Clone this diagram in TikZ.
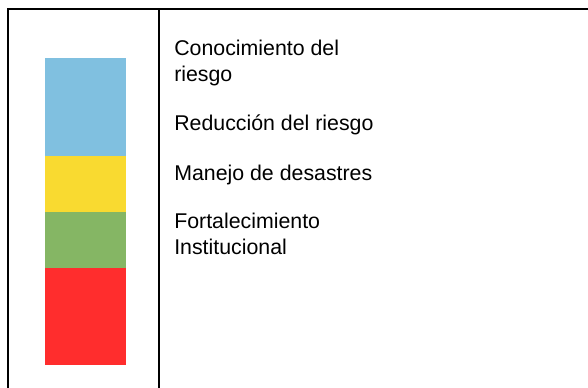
\documentclass[tikz,border=0pt]{standalone}
\usepackage{fontspec}
\setmainfont{Liberation Sans}
\definecolor{cblue}{HTML}{80C0E0}
\definecolor{cyellow}{HTML}{F9DA30}
\definecolor{cgreen}{HTML}{85B664}
\definecolor{cred}{HTML}{FF2D2D}
\tikzset{
  rule/.style={line width=1.7pt, line cap=rect},
  band/.style={inner sep=0pt, outer sep=0pt},
  label/.style={anchor=base west, inner sep=0pt, font=\fontsize{16}{19}\selectfont}
}
\begin{document}
\begin{tikzpicture}[x=0.75pt,y=-0.75pt]
  \useasboundingbox[fill=white] (0,0) rectangle (588,387);
  % table rules
  \coordinate (tl) at (8,9);
  \coordinate (tr) at (590,9);
  \coordinate (bl) at (8,390);
  \coordinate (dt) at (159,9);
  \coordinate (db) at (159,390);
  \draw[rule] (tr) -- (tl) -- (bl);
  \draw[rule] (dt) -- (db);
  % colour bar
  \fill[cblue]   (45,58)  rectangle (126,156);
  \fill[cyellow] (45,156) rectangle (126,212);
  \fill[cgreen]  (45,212) rectangle (126,268);
  \fill[cred]    (45,268) rectangle (126,365);
  % labels
  \node[label] (l1) at (174,55)  {Conocimiento del};
  \node[label] (l1b) at (174,81) {riesgo};
  \node[label] (l2) at (174,130) {Reducción del riesgo};
  \node[label] (l3) at (174,180) {Manejo de desastres};
  \node[label] (l4) at (174,228) {Fortalecimiento};
  \node[label] (l4b) at (174,254) {Institucional};
\end{tikzpicture}
\end{document}
